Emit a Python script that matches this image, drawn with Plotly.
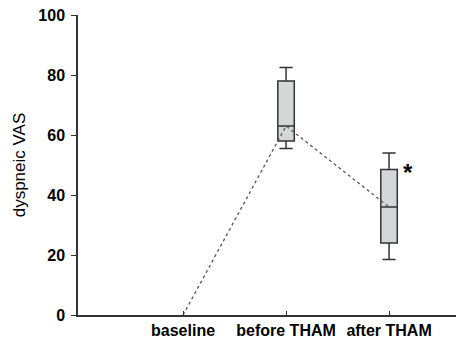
import plotly.graph_objects as go

categories = ["baseline", "before THAM", "after THAM"]
positions = [0, 1, 2]
medians = [0, 63, 36]

box_pos = [1, 2]
q1 = [58, 24]
median_box = [63, 36]
q3 = [78, 48.5]
lower = [55.5, 18.5]
upper = [82.5, 54]

yticks = [0, 20, 40, 60, 80, 100]

fig = go.Figure()

fig.add_trace(go.Scatter(
    x=positions, y=medians, mode="lines",
    line=dict(color="#555555", width=1.3, dash="3px,3px"),
    showlegend=False, hoverinfo="skip"))

fig.add_trace(go.Box(
    x=box_pos, q1=q1, median=median_box, q3=q3,
    lowerfence=lower, upperfence=upper,
    width=0.16, whiskerwidth=0.8,
    fillcolor="#d3d7d7", line=dict(color="#333333", width=1.5),
    boxpoints=False, showlegend=False))

fig.add_annotation(x=2.18, y=47.5, text="<b>*</b>", showarrow=False,
                   font=dict(size=24, color="#000000", family="Liberation Sans, Arial"),
                   xanchor="center", yanchor="middle")

fig.update_layout(
    width=456, height=340,
    margin=dict(l=78, r=0, t=15, b=25),
    paper_bgcolor="white", plot_bgcolor="white",
    font=dict(family="Liberation Sans, Arial", color="#000000"),
    xaxis=dict(
        range=[-1.02, 2.65], tickvals=positions, ticktext=["<b>%s</b>" % c for c in categories],
        showgrid=False, zeroline=False, showline=True, linecolor="#333333", linewidth=1.5,
        ticks="inside", ticklen=4, tickcolor="#333333", tickfont=dict(size=16),
    ),
    yaxis=dict(
        range=[0, 100], tickvals=yticks, ticktext=["<b>%d</b>" % v for v in yticks],
        showgrid=False, zeroline=False, showline=True, linecolor="#333333", linewidth=1.5,
        ticks="outside", ticklen=5, tickcolor="#333333", tickfont=dict(size=16),
        ticklabelstandoff=3,
        title=dict(text="dyspneic VAS", font=dict(size=17), standoff=8),
    ),
)

fig.write_html("out.html")
